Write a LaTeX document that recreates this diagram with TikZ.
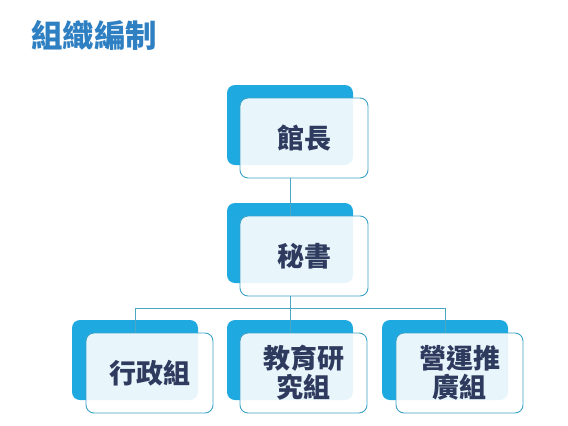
\documentclass[tikz,border=0pt]{standalone}
\usepackage{fontspec}
\setmainfont{Noto Sans CJK TC}
\definecolor{backblue}{HTML}{1EA9E1}
\definecolor{edgeblue}{HTML}{3CA2C6}
\definecolor{linkblue}{HTML}{4BA6C4}
\definecolor{textnavy}{HTML}{2E3A5E}
\definecolor{titleblue}{HTML}{2F80C2}
\tikzset{
  backbox/.style={fill=backblue, draw=none, rounded corners=8pt, minimum width=126pt, minimum height=80pt, inner sep=0pt},
  frontbox/.style={fill=white, fill opacity=0.9, text opacity=1, draw=edgeblue, line width=0.9pt, rounded corners=8pt, minimum width=128pt, minimum height=80pt, inner sep=0pt, align=center, font=\bfseries\fontsize{27}{29}\selectfont, text=textnavy},
  link/.style={draw=linkblue, line width=1pt}
}
\begin{document}
\begin{tikzpicture}[x=1pt,y=-1pt]
\useasboundingbox (0,0) rectangle (568,426);
\node[anchor=west, text=titleblue, font=\bfseries\fontsize{31.5}{33}\selectfont, inner sep=0pt] (title) at (31,35) {組織編制};
% top
\node[backbox] (b1) at (290,125) {};
\node[frontbox] (f1) at (304,138) {館長};
\node[backbox] (b2) at (290,243) {};
\node[frontbox] (f2) at (304,256) {秘書};
\node[backbox] (b3) at (135,360) {};
\node[frontbox, minimum width=127pt] (f3) at (149.5,373) {\raisebox{-4pt}{行政組}};
\node[backbox] (b4) at (290,360) {};
\node[frontbox, minimum width=127pt] (f4) at (303.5,373) {教育研\\究組};
\node[backbox] (b5) at (445,360) {};
\node[frontbox, minimum width=127pt] (f5) at (459.5,373) {營運推\\廣組};
% links
\coordinate (j) at (290,308);
\draw[link] (b1.south |- f1.south) -- (b2.north |- f2.north);
\draw[link] (b2.south |- f2.south) -- (j);
\draw[link] (b3.north |- j) -- (b5.north |- j);
\draw[link] (b3.north |- j) -- (b3.north |- f3.north);
\draw[link] (b5.north |- j) -- (b5.north |- f5.north);
\draw[link] (j) -- (b4.north |- f4.north);
\end{tikzpicture}
\end{document}
